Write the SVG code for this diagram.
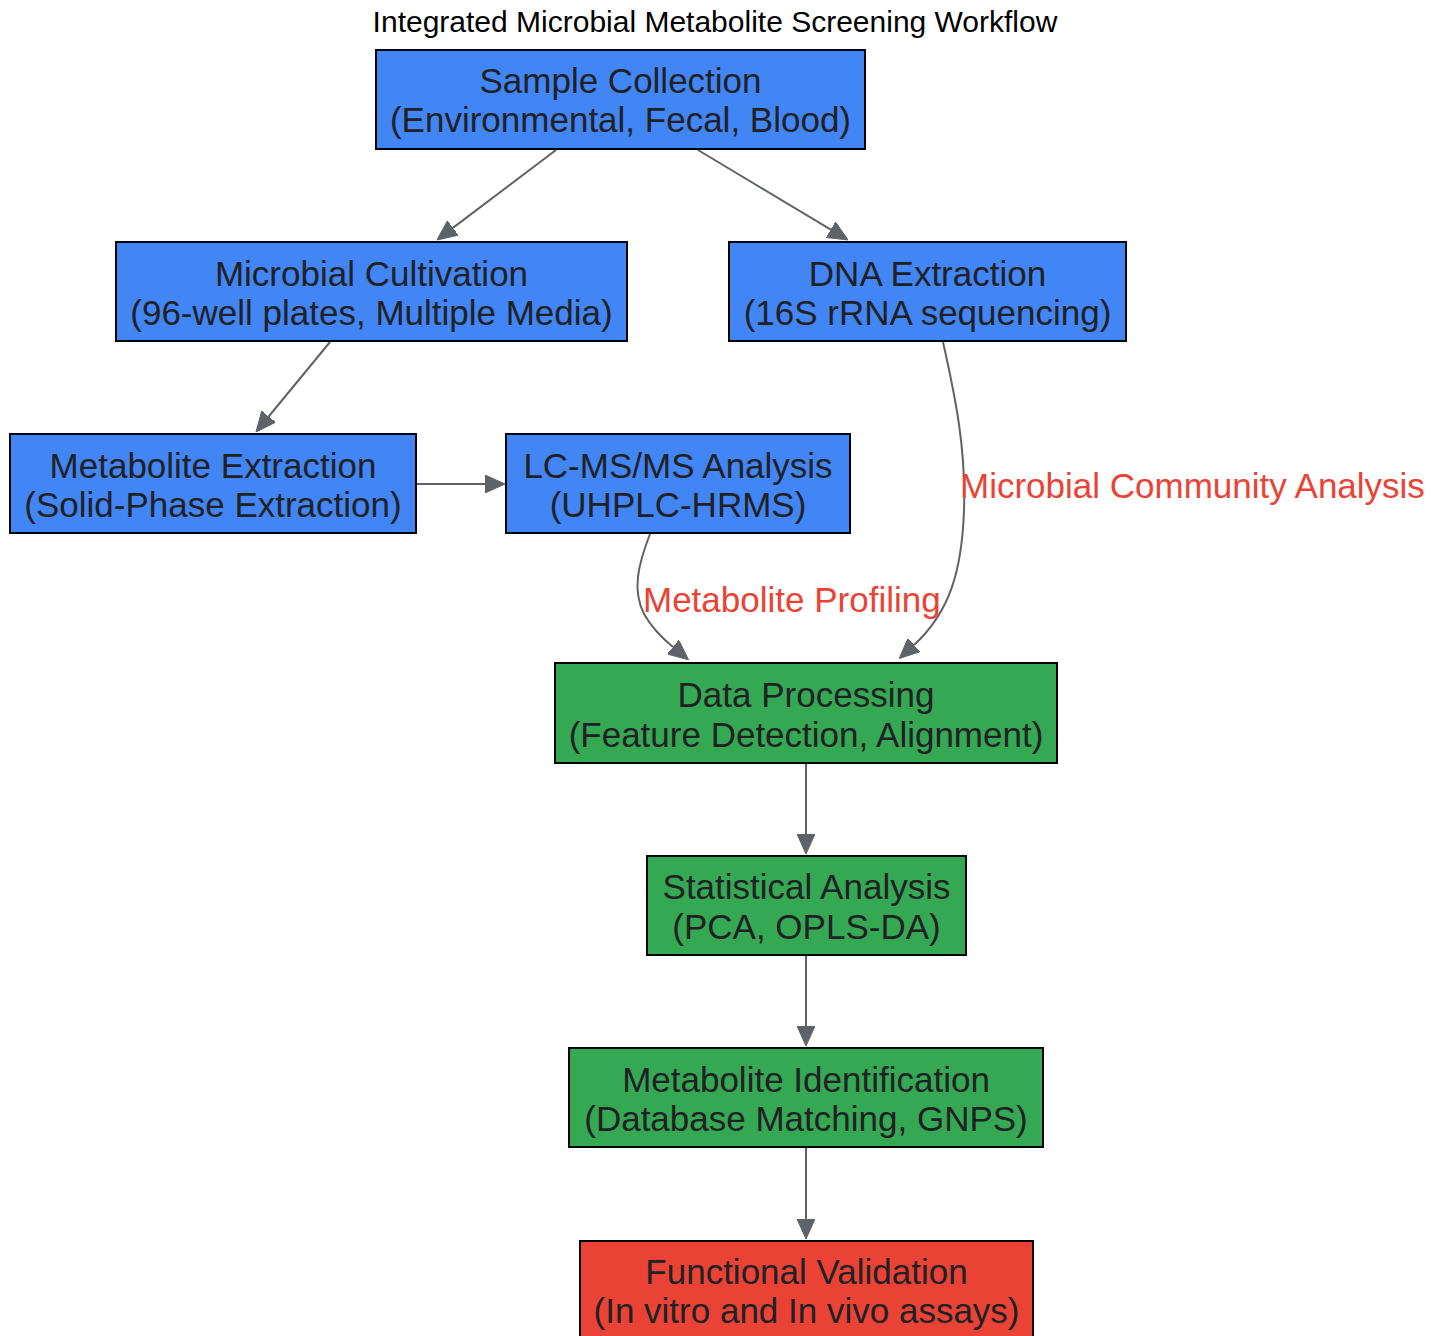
<svg xmlns="http://www.w3.org/2000/svg" width="1445" height="1336" viewBox="0 0 1445 1336">
<style>
.n rect{stroke:#000;stroke-width:2}
.b rect{fill:#4285F4}
.g rect{fill:#34A853}
.r rect{fill:#EA4335}
.n text{font-family:"Liberation Sans",Arial,sans-serif;font-size:35px;fill:#202124;text-anchor:middle}
.e path{fill:none;stroke:#5F6368;stroke-width:2}
.lbl{font-family:"Liberation Sans",Arial,sans-serif;font-size:35px;fill:#EA4335}
.title{font-family:"Liberation Sans",Arial,sans-serif;font-size:30px;fill:#000;text-anchor:middle}
</style>
<defs>
<marker id="ah" viewBox="0 0 20 18" refX="0" refY="9" markerWidth="20" markerHeight="18" markerUnits="userSpaceOnUse" orient="auto">
<path d="M0,0 L20,9 L0,18 z" fill="#5F6368" stroke="#5F6368" stroke-width="1"/>
</marker>
</defs>
<rect width="1445" height="1336" fill="#fff"/>
<text class="title" x="715" y="32">Integrated Microbial Metabolite Screening Workflow</text>
<g id="edges" class="e">
<path d="M556,150 L452.9,227.9" marker-end="url(#ah)"/>
<path d="M698,150 L830.8,229.7" marker-end="url(#ah)"/>
<path d="M330,342 L268.7,416.5" marker-end="url(#ah)"/>
<path d="M417,484 L485,484" marker-end="url(#ah)"/>
<path d="M650,534 C638,565 632,590 644,614 C652,628 662,638 673,647" marker-end="url(#ah)"/>
<path d="M943,342 C956,400 966,450 964,510 C962,570 950,612 914,645" marker-end="url(#ah)"/>
<path d="M806,764 L806,834" marker-end="url(#ah)"/>
<path d="M806,956 L806,1026" marker-end="url(#ah)"/>
<path d="M806,1148 L806,1219" marker-end="url(#ah)"/>
<text class="lbl" x="643" y="612">Metabolite Profiling</text>
<text class="lbl" x="960" y="498">Microbial Community Analysis</text>
</g>
<g id="sample" class="n b"><rect x="376" y="50" width="489" height="99"/><text x="620.5" y="93">Sample Collection</text><text x="620.5" y="132">(Environmental, Fecal, Blood)</text></g>
<g id="cultivation" class="n b"><rect x="116" y="242" width="511" height="99"/><text x="371.5" y="286">Microbial Cultivation</text><text x="371.5" y="325">(96-well plates, Multiple Media)</text></g>
<g id="dna" class="n b"><rect x="729" y="242" width="397" height="99"/><text x="927.5" y="286">DNA Extraction</text><text x="927.5" y="325">(16S rRNA sequencing)</text></g>
<g id="metext" class="n b"><rect x="10" y="434" width="406" height="99"/><text x="213" y="478">Metabolite Extraction</text><text x="213" y="517">(Solid-Phase Extraction)</text></g>
<g id="lcms" class="n b"><rect x="506" y="434" width="344" height="99"/><text x="678" y="478">LC-MS/MS Analysis</text><text x="678" y="517">(UHPLC-HRMS)</text></g>
<g id="dataproc" class="n g"><rect x="555" y="663" width="502" height="100"/><text x="806" y="707">Data Processing</text><text x="806" y="747">(Feature Detection, Alignment)</text></g>
<g id="stats" class="n g"><rect x="647" y="856" width="319" height="99"/><text x="806.5" y="899">Statistical Analysis</text><text x="806.5" y="939">(PCA, OPLS-DA)</text></g>
<g id="ident" class="n g"><rect x="569" y="1048" width="474" height="99"/><text x="806" y="1092">Metabolite Identification</text><text x="806" y="1131">(Database Matching, GNPS)</text></g>
<g id="valid" class="n r"><rect x="580" y="1241" width="453" height="110"/><text x="806.5" y="1284">Functional Validation</text><text x="806.5" y="1323">(In vitro and In vivo assays)</text></g>
</svg>
